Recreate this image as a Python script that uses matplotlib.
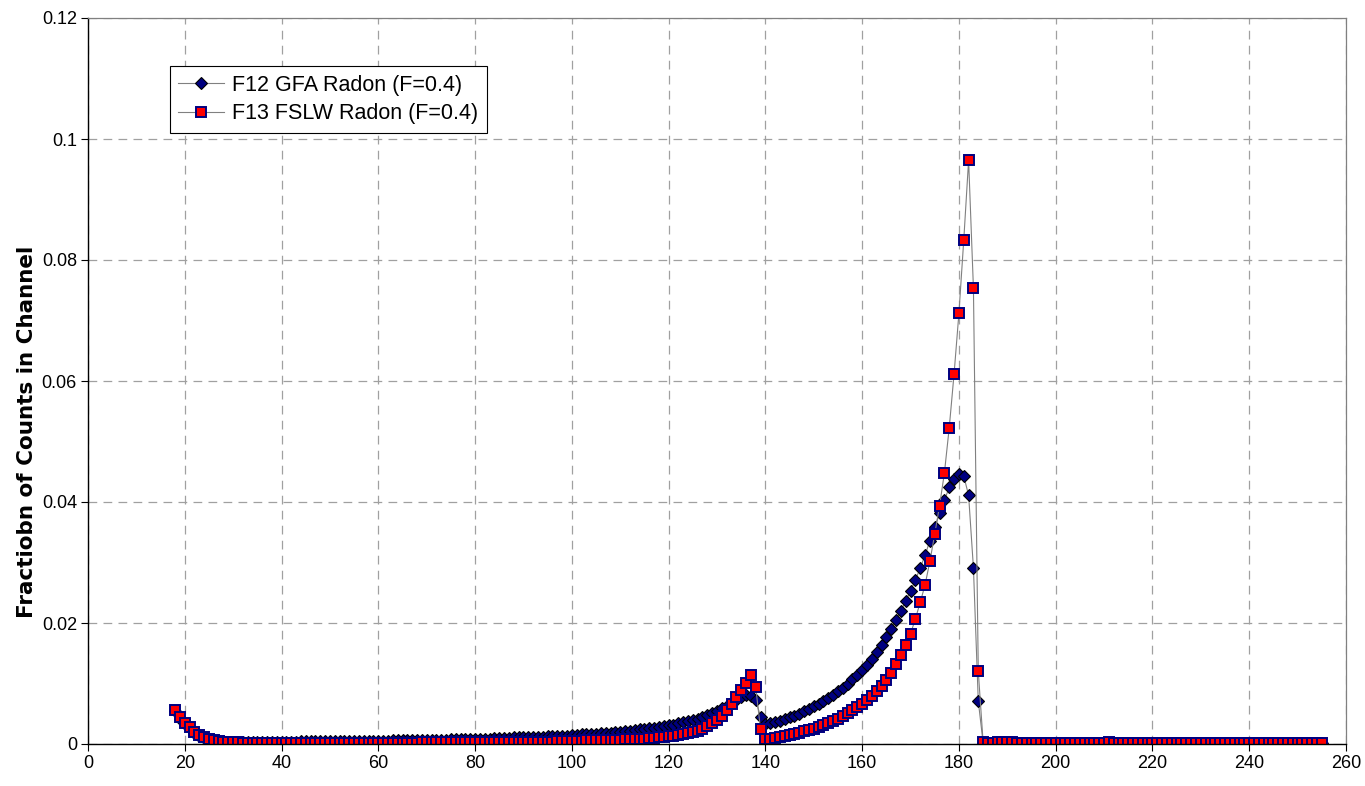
import numpy as np
import matplotlib
matplotlib.use("Agg")
import matplotlib.pyplot as plt

plt.rcParams['font.family'] = ['Liberation Sans', 'DejaVu Sans']

# channels 18..255
channel = list(range(18, 256))

gfa_radon = [
    # 18-30
    0.0055, 0.0042, 0.0033, 0.0026, 0.0019, 0.0014, 0.0010, 0.0008, 0.0006, 0.0005, 0.0005, 0.0004, 0.0004,
    # 31-60
    0.0004, 0.0004, 0.0004, 0.0004, 0.0004, 0.0004, 0.0004, 0.0004, 0.0004, 0.0004,
    0.0004, 0.0004, 0.0004, 0.0005, 0.0005, 0.0005, 0.0005, 0.0005, 0.0005, 0.0005,
    0.0005, 0.0005, 0.0005, 0.0005, 0.0005, 0.0005, 0.0005, 0.0005, 0.0005, 0.0005,
    # 61-100
    0.0005, 0.0005, 0.0006, 0.0006, 0.0006, 0.0006, 0.0006, 0.0006, 0.0007, 0.0007,
    0.0007, 0.0007, 0.0007, 0.0007, 0.0008, 0.0008, 0.0008, 0.0008, 0.0008, 0.0009,
    0.0009, 0.0009, 0.0009, 0.0010, 0.0010, 0.0010, 0.0010, 0.0011, 0.0011, 0.0011,
    0.0011, 0.0012, 0.0012, 0.0012, 0.0013, 0.0013, 0.0013, 0.0014, 0.0014, 0.0015,
    # 101-119
    0.0015, 0.0016, 0.0016, 0.0017, 0.0017, 0.0018, 0.0018, 0.0019, 0.0020, 0.0020,
    0.0021, 0.0022, 0.0023, 0.0024, 0.0025, 0.0026, 0.0027, 0.0028, 0.0030,
    # 120-139
    0.0031, 0.0032, 0.0034, 0.0036, 0.0038, 0.0040, 0.0042, 0.0045, 0.0048, 0.0051,
    0.0055, 0.0059, 0.0063, 0.0068, 0.0073, 0.0078, 0.0081, 0.0080, 0.0073, 0.0045,
    # 140-185
    0.0033, 0.0034, 0.0036, 0.0038, 0.0041, 0.0044, 0.0047, 0.0050, 0.0054, 0.0058,
    0.0062, 0.0066, 0.0071, 0.0076, 0.0081, 0.0087, 0.0093, 0.0100, 0.0107, 0.0114,
    0.0122, 0.0131, 0.0141, 0.0152, 0.0164, 0.0177, 0.0190, 0.0205, 0.0220, 0.0236,
    0.0253, 0.0271, 0.0291, 0.0312, 0.0336, 0.0358, 0.0381, 0.0403, 0.0424, 0.0438,
    0.0447, 0.0443, 0.0411, 0.0291, 0.0071, 0.0002,
    # 186-255
    0.0002, 0.0002, 0.0002, 0.0002, 0.0002, 0.0002, 0.0002, 0.0001, 0.0001, 0.0001,
    0.0001, 0.0001, 0.0001, 0.0001, 0.0001, 0.0001, 0.0001, 0.0001, 0.0001, 0.0001,
    0.0001, 0.0001, 0.0001, 0.0001, 0.0001, 0.0002, 0.0001, 0.0001, 0.0001, 0.0001,
    0.0001, 0.0001, 0.0001, 0.0001, 0.0001, 0.0001, 0.0001, 0.0001, 0.0001, 0.0001,
    0.0001, 0.0001, 0.0001, 0.0001, 0.0001, 0.0001, 0.0001, 0.0001, 0.0001, 0.0001,
    0.0001, 0.0001, 0.0001, 0.0001, 0.0001, 0.0001, 0.0001, 0.0001, 0.0001, 0.0001,
    0.0001, 0.0001, 0.0001, 0.0001, 0.0001, 0.0001, 0.0001, 0.0001, 0.0001, 0.0001,
]

fslw_radon = [
    # 18-30
    0.0057, 0.0044, 0.0035, 0.0028, 0.0020, 0.0015, 0.0011, 0.0008, 0.0006, 0.0005, 0.0004, 0.0003, 0.0003,
    # 31-60
    0.0003, 0.0002, 0.0002, 0.0002, 0.0002, 0.0002, 0.0002, 0.0002, 0.0002, 0.0002,
    0.0002, 0.0002, 0.0002, 0.0002, 0.0002, 0.0002, 0.0002, 0.0002, 0.0002, 0.0002,
    0.0002, 0.0002, 0.0002, 0.0002, 0.0002, 0.0002, 0.0002, 0.0002, 0.0002, 0.0002,
    # 61-99
    0.0002, 0.0002, 0.0002, 0.0002, 0.0002, 0.0002, 0.0002, 0.0002, 0.0003, 0.0003,
    0.0003, 0.0003, 0.0003, 0.0003, 0.0003, 0.0003, 0.0003, 0.0003, 0.0003, 0.0003,
    0.0003, 0.0003, 0.0003, 0.0003, 0.0003, 0.0004, 0.0004, 0.0004, 0.0004, 0.0004,
    0.0004, 0.0004, 0.0004, 0.0004, 0.0004, 0.0004, 0.0005, 0.0005, 0.0005,
    # 100-139
    0.0005, 0.0005, 0.0005, 0.0006, 0.0006, 0.0006, 0.0006, 0.0007, 0.0007, 0.0007,
    0.0007, 0.0008, 0.0008, 0.0008, 0.0009, 0.0009, 0.0010, 0.0010, 0.0011, 0.0012,
    0.0013, 0.0014, 0.0015, 0.0016, 0.0018, 0.0020, 0.0022, 0.0025, 0.0029, 0.0034,
    0.0040, 0.0047, 0.0056, 0.0066, 0.0077, 0.0089, 0.0101, 0.0114, 0.0094, 0.0024,
    # 140-185
    0.0008, 0.0009, 0.0010, 0.0011, 0.0013, 0.0015, 0.0017, 0.0019, 0.0021, 0.0023,
    0.0025, 0.0028, 0.0031, 0.0034, 0.0038, 0.0042, 0.0046, 0.0051, 0.0056, 0.0061,
    0.0066, 0.0072, 0.0079, 0.0087, 0.0096, 0.0106, 0.0118, 0.0132, 0.0147, 0.0163,
    0.0182, 0.0207, 0.0234, 0.0263, 0.0302, 0.0347, 0.0394, 0.0448, 0.0523, 0.0612,
    0.0712, 0.0833, 0.0965, 0.0753, 0.0120, 0.0003,
    # 186-255
    0.0002, 0.0002, 0.0003, 0.0003, 0.0003, 0.0003, 0.0002, 0.0002, 0.0002, 0.0002,
    0.0002, 0.0002, 0.0002, 0.0002, 0.0002, 0.0002, 0.0002, 0.0002, 0.0002, 0.0002,
    0.0002, 0.0002, 0.0002, 0.0002, 0.0002, 0.0003, 0.0002, 0.0002, 0.0002, 0.0002,
    0.0002, 0.0002, 0.0001, 0.0001, 0.0001, 0.0001, 0.0001, 0.0001, 0.0001, 0.0001,
    0.0001, 0.0001, 0.0001, 0.0001, 0.0001, 0.0001, 0.0001, 0.0001, 0.0001, 0.0001,
    0.0001, 0.0001, 0.0001, 0.0001, 0.0001, 0.0001, 0.0001, 0.0001, 0.0001, 0.0001,
    0.0001, 0.0001, 0.0001, 0.0001, 0.0001, 0.0001, 0.0001, 0.0001, 0.0001, 0.0001,
]

x_ticks = list(range(0, 261, 20))
y_ticks = [0, 0.02, 0.04, 0.06, 0.08, 0.1, 0.12]
y_tick_labels = ["0", "0.02", "0.04", "0.06", "0.08", "0.1", "0.12"]

fig = plt.figure(figsize=(13.65, 7.86), dpi=100)
ax = fig.add_axes([88 / 1365, 42 / 786, 1258 / 1365, 726 / 786])

ax.plot(channel, gfa_radon, c='#808080', lw=0.8, marker='D', markersize=6.5,
        markerfacecolor='#000080', markeredgecolor='black', markeredgewidth=0.8,
        label="F12 GFA Radon (F=0.4)")
ax.plot(channel, fslw_radon, c='#808080', lw=0.8, marker='s', markersize=7.6,
        markerfacecolor='#ff0000', markeredgecolor='#000080', markeredgewidth=1.4,
        label="F13 FSLW Radon (F=0.4)")

ax.set_xlim(0, 260)
ax.set_ylim(0, 0.12)
ax.set_xticks(x_ticks)
ax.set_yticks(y_ticks)
ax.set_yticklabels(y_tick_labels)
ax.tick_params(direction='out', length=5, width=0.8, labelsize=13, colors='black', pad=3)
ax.grid(True, color='#a0a0a0', ls=(0, (7, 5)), lw=0.9)
ax.set_axisbelow(True)

for side in ['top', 'right']:
    ax.spines[side].set_color('#808080')
    ax.spines[side].set_linewidth(0.9)
for side in ['left', 'bottom']:
    ax.spines[side].set_color('black')
    ax.spines[side].set_linewidth(1.0)

# y label sits left of the tick labels, a bit below the axes middle
fig.text(27 / 1365, 1 - 432 / 786, "Fractiobn of Counts in Channel", rotation=90,
         ha='center', va='center', fontsize=15.5, fontweight='bold', family='DejaVu Sans')

leg = ax.legend(loc='upper left', bbox_to_anchor=(0.065, 0.934), fontsize=15.5,
                frameon=True, fancybox=False, edgecolor='black', framealpha=1,
                handlelength=2.1, handletextpad=0.4, borderpad=0.4,
                labelspacing=0.35, borderaxespad=0)
leg.get_frame().set_linewidth(0.8)

plt.savefig("out.png", dpi=100)
plt.close()
